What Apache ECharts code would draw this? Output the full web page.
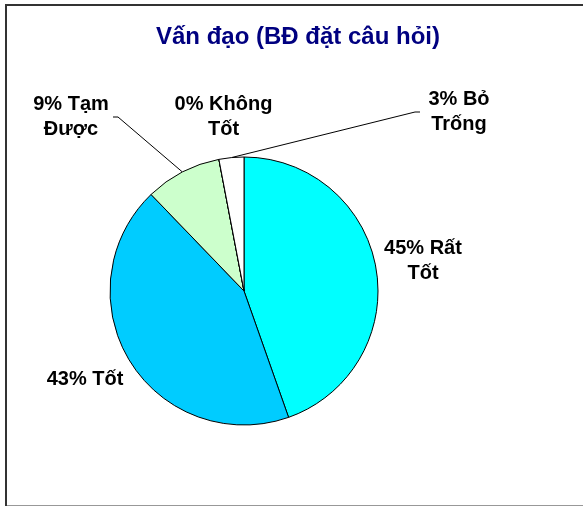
<!DOCTYPE html>
<html>
<head>
<meta charset="utf-8">
<script src="https://cdn.jsdelivr.net/npm/echarts@6/dist/echarts.min.js"></script>
<style>
html, body { margin: 0; padding: 0; background: #fff; }
#chart { width: 583px; height: 506px; }
</style>
</head>
<body>
<div id="chart"></div>
<script>
// ---- data ----
const titleText = 'Vấn đạo (BĐ đặt câu hỏi)';
const categories = ['Rất Tốt', 'Tốt', 'Tạm Được', 'Không Tốt', 'Bỏ Trống'];
const values = [44.6, 43.2, 9.2, 0, 3.0];
const labelNames = ['Rất\nTốt', 'Tốt', 'Tạm\nĐược', 'Không\nTốt', 'Bỏ\nTrống'];

// ---- styles ----
const sliceColors = ['#00FFFF', '#00CCFF', '#CCFFCC', '#FFFF99', '#FFFFFF'];
const labelPos = [[423, 261], [85, 379], [71, 117], [223.5, 117], [459, 112]];
const leaderEnds = [null, null, [[118, 117], [113, 117]], null, [[415, 112], [420, 112]]];
const FONT = '"Liberation Sans", Arial, sans-serif';

const chart = echarts.init(document.getElementById('chart'), null, { renderer: 'canvas' });

const data = categories.map((c, i) => ({
  name: c,
  value: values[i],
  itemStyle: { color: sliceColors[i] },
  labelLine: { show: !!leaderEnds[i] }
}));

chart.setOption({
  animation: false,
  backgroundColor: '#fff',
  title: {
    text: titleText,
    left: 156,
    top: 25,
    padding: 0,
    textStyle: { fontFamily: FONT, fontSize: 24, fontWeight: 'bold', color: '#000080' }
  },
  graphic: [{
    type: 'rect',
    shape: { x: 6, y: 5, width: 620, height: 501.5 },
    style: { fill: 'none', stroke: '#333', lineWidth: 2 },
    silent: true,
    z: -1
  }],
  series: [{
    type: 'pie',
    center: [244, 291],
    radius: 134,
    startAngle: 90,
    clockwise: true,
    avoidLabelOverlap: false,
    percentPrecision: 0,
    emphasis: { disabled: true },
    itemStyle: { borderColor: '#000', borderWidth: 1 },
    label: {
      show: true,
      position: 'outside',
      fontFamily: FONT,
      fontSize: 20,
      fontWeight: 'bold',
      color: '#000',
      lineHeight: 25,
      align: 'center',
      formatter: (p) => p.percent + '% ' + labelNames[p.dataIndex]
    },
    labelLine: { length: 10, length2: 10, lineStyle: { color: '#000', width: 1 } },
    labelLayout: (params) => {
      const i = params.dataIndex;
      const pos = labelPos[i];
      const out = { x: pos[0], y: pos[1], align: 'center', verticalAlign: 'middle' };
      if (leaderEnds[i] && params.labelLinePoints) {
        out.labelLinePoints = [params.labelLinePoints[0]].concat(leaderEnds[i]);
      }
      return out;
    },
    data: data
  }]
});
</script>
</body>
</html>
